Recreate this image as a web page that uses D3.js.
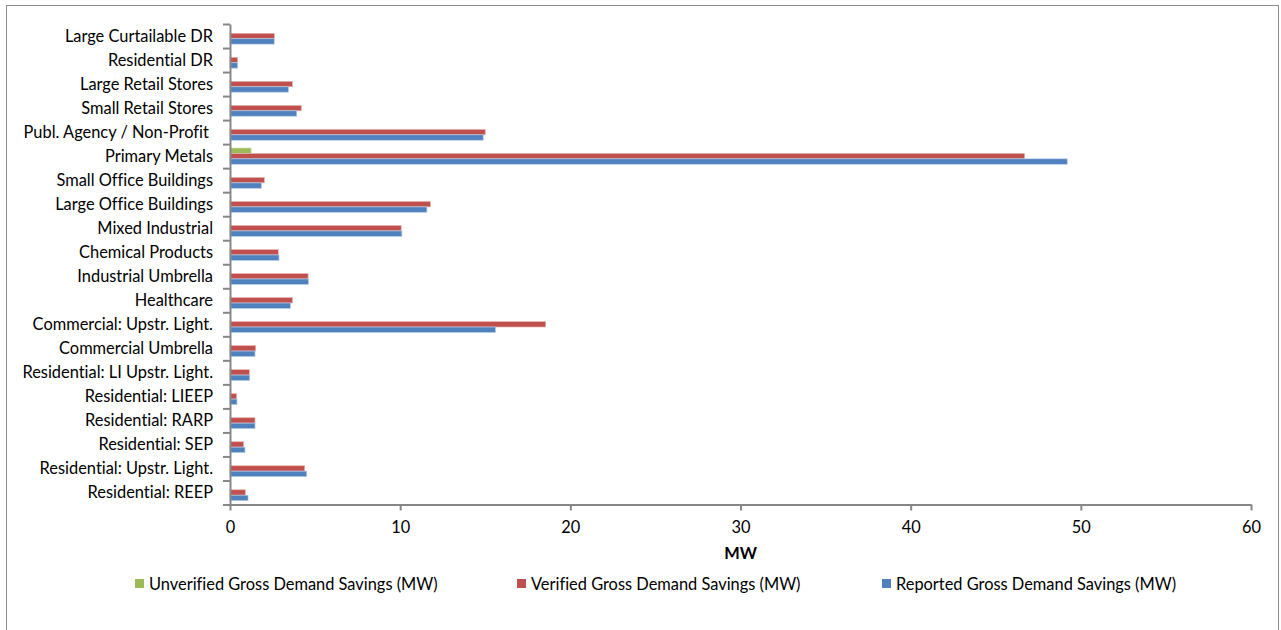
<!DOCTYPE html>
<html>
<head>
<meta charset="utf-8">
<script src="https://cdn.jsdelivr.net/npm/d3@7"></script>
<style>
  html, body { margin: 0; padding: 0; background: #fff; }
  svg { display: block; }
  text {
    font-family: Lato, "Open Sans", sans-serif;
    fill: #000;
    font-variant-ligatures: none;
    font-feature-settings: "liga" 0, "clig" 0;
    white-space: pre;
  }
</style>
</head>
<body>
<svg id="chart" width="1281" height="630"></svg>
<script>
// Program categories, listed top to bottom
const categories = [
  "Large Curtailable DR",
  "Residential DR",
  "Large Retail Stores",
  "Small Retail Stores",
  "Publ. Agency / Non-Profit ",
  "Primary Metals",
  "Small Office Buildings",
  "Large Office Buildings",
  "Mixed Industrial",
  "Chemical Products",
  "Industrial Umbrella",
  "Healthcare",
  "Commercial: Upstr. Light.",
  "Commercial Umbrella",
  "Residential: LI Upstr. Light.",
  "Residential: LIEEP",
  "Residential: RARP",
  "Residential: SEP",
  "Residential: Upstr. Light.",
  "Residential: REEP"
];

// Demand savings in MW, same order as categories
const unverified = [0, 0, 0, 0, 0, 1.24, 0, 0, 0, 0, 0, 0, 0, 0, 0, 0, 0, 0, 0, 0];
const verified = [2.61, 0.45, 3.67, 4.19, 15.0, 46.7, 2.02, 11.78, 10.06, 2.84,
                  4.59, 3.67, 18.55, 1.51, 1.14, 0.39, 1.47, 0.8, 4.39, 0.9];
const reported = [2.6, 0.45, 3.43, 3.92, 14.88, 49.2, 1.84, 11.57, 10.1, 2.88,
                  4.61, 3.55, 15.6, 1.47, 1.16, 0.41, 1.47, 0.88, 4.51, 1.06];

const seriesNames = [
  "Unverified Gross Demand Savings (MW)",
  "Verified Gross Demand Savings (MW)",
  "Reported Gross Demand Savings (MW)"
];
const seriesValues = [unverified, verified, reported];
const seriesColors = ["#9BBB59", "#C0504D", "#4F81BD"];
const seriesEdges = ["#cfe0b0", "#e8b5b3", "#b4c9e6"];

const xTicks = [0, 10, 20, 30, 40, 50, 60];
const xTitle = "MW";

// ---- layout ----
const svg = d3.select("#chart");
const plot = { left: 230, right: 1251, top: 24, bottom: 504.5 };
const axisColor = "#878787";
const fontSize = 16.4;

// outer chart frame
svg.append("rect")
  .attr("x", 6.5).attr("y", 5.5)
  .attr("width", 1272).attr("height", 700)
  .attr("fill", "none")
  .attr("stroke", "#8c8c8c")
  .attr("stroke-width", 1);

const x = d3.scaleLinear().domain([0, 60]).range([plot.left, plot.right]);

const y = d3.scaleBand()
  .domain(categories)
  .range([plot.top, plot.bottom])
  .paddingInner(0.325)
  .paddingOuter(0.1625);

const ySeries = d3.scaleBand()
  .domain(seriesNames)
  .range([0, y.bandwidth()]);

// category boundaries for the tick marks
const yEdge = d3.scaleLinear().domain([0, categories.length]).range([plot.top, plot.bottom]);

// bars
const rows = categories.map((c, i) => ({ c, i }));
seriesNames.forEach((s, si) => {
  svg.append("g")
    .selectAll("rect")
    .data(rows.filter(r => seriesValues[si][r.i] > 0))
    .join("rect")
    .attr("x", x(0))
    .attr("y", r => y(r.c) + ySeries(s))
    .attr("width", r => x(seriesValues[si][r.i]) - x(0))
    .attr("height", ySeries.bandwidth())
    .attr("fill", seriesColors[si])
    .attr("stroke", seriesEdges[si])
    .attr("stroke-width", 0.7);
});

// y axis: line + tick marks at category boundaries
const yAxis = svg.append("g")
  .attr("transform", `translate(${plot.left},0)`)
  .call(d3.axisLeft(yEdge)
    .tickValues(d3.range(categories.length + 1))
    .tickSize(7)
    .tickSizeOuter(0)
    .tickFormat(""));
yAxis.select(".domain").attr("stroke", axisColor).attr("stroke-width", 2);
yAxis.selectAll(".tick line").attr("stroke", axisColor).attr("stroke-width", 2);

// category labels
svg.append("g")
  .selectAll("text")
  .data(categories)
  .join("text")
  .attr("x", 213)
  .attr("y", c => y(c) + y.bandwidth() / 2)
  .attr("dy", "0.35em")
  .attr("text-anchor", "end")
  .attr("font-size", fontSize)
  .text(c => c);

// x axis
const xAxis = svg.append("g")
  .attr("transform", `translate(0,${plot.bottom})`)
  .call(d3.axisBottom(x)
    .tickValues(xTicks)
    .tickSize(6)
    .tickSizeOuter(0)
    .tickPadding(11)
    .tickFormat(d3.format("d")));
xAxis.select(".domain").attr("stroke", axisColor).attr("stroke-width", 2);
xAxis.selectAll(".tick line").attr("stroke", axisColor).attr("stroke-width", 2);
xAxis.selectAll(".tick text")
  .attr("font-size", fontSize)
  .attr("font-family", "Lato, 'Open Sans', sans-serif")
  .attr("fill", "#000");

// axis title
svg.append("text")
  .attr("x", (plot.left + plot.right) / 2)
  .attr("y", 559)
  .attr("text-anchor", "middle")
  .attr("font-size", fontSize)
  .attr("font-weight", "bold")
  .text(xTitle);

// legend
const legendX = [135, 517, 882];
const legend = svg.append("g");
seriesNames.forEach((s, si) => {
  legend.append("rect")
    .attr("x", legendX[si]).attr("y", 579)
    .attr("width", 9).attr("height", 9)
    .attr("fill", seriesColors[si]);
  legend.append("text")
    .attr("x", legendX[si] + 14)
    .attr("y", 589.5)
    .attr("font-size", fontSize)
    .text(s);
});
</script>
</body>
</html>
